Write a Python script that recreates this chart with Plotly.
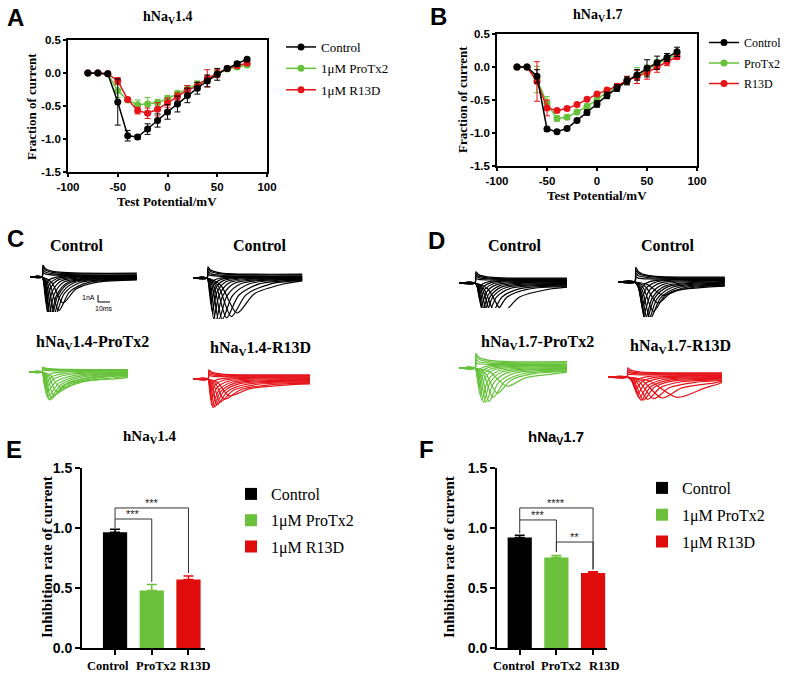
import plotly.graph_objects as go

W, H = 786, 673
def fx(p): return p / W
def fy(p): return 1 - p / H

SERIF = "Liberation Serif"
SANS = "Liberation Sans"
BLACK = "#000000"
GREEN = "#66c23a"
RED = "#e5141b"
BGREEN = "#6cc13c"
BRED = "#e00b0b"

# ---------------- I-V data (panels A, B) ----------------
volt = [-80, -70, -60, -50, -40, -30, -20, -10, 0, 10, 20, 30, 40, 50, 60, 70, 80]

A_ctrl = [0, 0, -0.01, -0.44, -0.95, -0.97, -0.85, -0.72, -0.59, -0.47, -0.34, -0.23, -0.12, -0.02, 0.07, 0.14, 0.21]
A_ctrl_err = [0.01, 0.01, 0.01, 0.35, 0.08, 0.03, 0.08, 0.10, 0.11, 0.12, 0.11, 0.09, 0.09, 0.09, 0.03, 0.03, 0.02]
A_pro = [0, 0, -0.01, -0.27, -0.41, -0.48, -0.47, -0.45, -0.39, -0.31, -0.24, -0.17, -0.10, 0.0, 0.06, 0.09, 0.12]
A_pro_err = [0.01, 0.01, 0.01, 0.10, 0.03, 0.07, 0.10, 0.05, 0.05, 0.04, 0.05, 0.05, 0.05, 0.04, 0.03, 0.03, 0.02]
A_r13 = [0, 0, -0.01, -0.12, -0.40, -0.57, -0.61, -0.55, -0.45, -0.36, -0.26, -0.20, -0.08, -0.01, 0.07, 0.11, 0.15]
A_r13_err = [0.01, 0.01, 0.01, 0.05, 0.02, 0.05, 0.08, 0.10, 0.07, 0.06, 0.07, 0.06, 0.13, 0.06, 0.03, 0.03, 0.03]

B_ctrl = [0, 0, -0.14, -0.94, -0.98, -0.93, -0.81, -0.69, -0.56, -0.43, -0.32, -0.21, -0.12, -0.02, 0.065, 0.145, 0.23]
B_ctrl_err = [0.01, 0.01, 0.10, 0.03, 0.02, 0.02, 0.03, 0.04, 0.05, 0.05, 0.05, 0.06, 0.08, 0.13, 0.10, 0.06, 0.07]
B_pro = [0, 0, -0.19, -0.55, -0.78, -0.76, -0.68, -0.60, -0.49, -0.38, -0.30, -0.21, -0.13, -0.05, 0.05, 0.12, 0.20]
B_pro_err = [0.01, 0.01, 0.20, 0.10, 0.04, 0.03, 0.03, 0.04, 0.04, 0.04, 0.05, 0.06, 0.12, 0.08, 0.06, 0.05, 0.05]
B_r13 = [0, 0, -0.22, -0.62, -0.66, -0.63, -0.57, -0.49, -0.41, -0.35, -0.29, -0.20, -0.15, -0.085, 0.0, 0.08, 0.155]
B_r13_err = [0.01, 0.01, 0.30, 0.12, 0.02, 0.02, 0.02, 0.02, 0.02, 0.03, 0.04, 0.06, 0.10, 0.10, 0.08, 0.06, 0.04]

iv_names = ["Control", "1μM ProTx2", "1μM R13D"]
iv_names_B = ["Control", "ProTx2", "R13D"]
iv_xticks = [-100, -50, 0, 50, 100]
iv_yticks = [-1.5, -1.0, -0.5, 0.0, 0.5]
iv_yticktext = ["-1.5", "-1.0", "-0.5", "0.0", "0.5"]
iv_xticktext = ["-100", "-50", "0", "50", "100"]
iv_xtitle = "Test Potential/mV"
iv_ytitle = "Fraction of current"

# ---------------- bar data (panels E, F) ----------------
bar_cats = ["Control", "ProTx2", "R13D"]
bar_names = ["Control", "1μM ProTx2", "1μM R13D"]
E_vals = [0.965, 0.48, 0.57]
E_err = [0.025, 0.05, 0.03]
F_vals = [0.92, 0.755, 0.625]
F_err = [0.02, 0.015, 0.01]
bar_yticks = [0.0, 0.5, 1.0, 1.5]
bar_yticktext = ["0.0", "0.5", "1.0", "1.5"]
bar_ytitle = "Inhibition rate of current"

# significance brackets: (left idx, right idx, left end, top, right end, label)
E_sig = [(0, 1, 1.0, 1.075, 0.55, "***"), (0, 2, 1.075, 1.167, 0.625, "***")]
F_sig = [(0, 1, 0.955, 1.067, 0.80, "***"), (0, 2, 1.067, 1.167, 0.655, "****"), (1, 2, 0.80, 0.883, 0.655, "**")]

# ---------------- current-trace families (panels C, D), ms / nA ----------------
fam_C1 = dict(t_on=10, t_end=89, k=1.0,
              peak_t=[27.5, 24, 21, 19, 17.5, 16.7, 15.5, 14.5, 13.5, 12.8, 12.2],
              peak_a=[-3.7, -4.8, -5.5, -6.0, -6.3, -6.4, -5.9, -4.9, -3.8, -2.6, -1.4],
              neg_tail=[-0.4, -0.35, -0.3, -0.25, -0.2, -0.15, -0.1, -0.05, 0.0, 0.05, 0.1],
              out_a=[0.6, 1.0, 1.4, 1.7], out_tail=[0.2, 0.3, 0.45, 0.55])
fam_C2 = dict(t_on=11.7, t_end=91, k=1.0,
              peak_t=[36.7, 32, 28, 24.5, 21.5, 19, 17.2, 16, 15, 14.2, 13.5],
              peak_a=[-5.0, -5.5, -5.7, -5.9, -6.0, -6.2, -5.8, -4.8, -3.7, -2.5, -1.3],
              neg_tail=[-0.4, -0.35, -0.3, -0.25, -0.2, -0.15, -0.1, -0.05, 0.0, 0.05, 0.1],
              out_a=[0.5, 0.9, 1.3, 1.6], out_tail=[0.2, 0.3, 0.45, 0.55])
fam_C3 = dict(t_on=10.8, t_end=82.5, k=2.2,
              peak_t=[26, 23, 20.5, 18.5, 17.5, 16.5, 15.5, 14.5, 13.5, 12.8, 12.2],
              peak_a=[-2.2, -2.8, -3.3, -3.7, -4.0, -3.9, -3.6, -3.0, -2.3, -1.6, -0.8],
              neg_tail=[-0.7, -0.6, -0.5, -0.45, -0.4, -0.3, -0.25, -0.2, -0.1, 0.0, 0.1],
              out_a=[0.3, 0.5, 0.6, 0.7], out_tail=[0.15, 0.25, 0.3, 0.35])
fam_C4 = dict(t_on=12.5, t_end=97.5, k=1.6,
              peak_t=[30, 26, 22.5, 20, 18, 16.7, 15.8, 15, 14.3, 13.7],
              peak_a=[-2.4, -2.9, -3.3, -3.7, -4.0, -4.1, -3.8, -3.0, -2.0, -1.0],
              neg_tail=[-0.7, -0.6, -0.5, -0.4, -0.3, -0.2, -0.1, 0.0, 0.1, 0.2],
              out_a=[0.5, 0.8, 1.1, 1.3], out_tail=[0.3, 0.4, 0.5, 0.6])
fam_D1 = dict(t_on=13.3, t_end=90, k=1.0,
              peak_t=[36.7, 30, 27, 24, 22, 20.5, 19.5, 18.5, 17.5, 16.8, 16.2],
              peak_a=[-4.1, -4.2, -4.4, -4.5, -4.6, -4.6, -4.1, -3.3, -2.5, -1.7, -0.9],
              neg_tail=[-0.6, -0.5, -0.4, -0.3, -0.2, -0.1, 0.0, 0.1, 0.2, 0.3, 0.35],
              out_a=[0.6, 1.0, 1.3, 1.6], out_tail=[0.4, 0.5, 0.6, 0.7])
fam_D2 = dict(t_on=14, t_end=89, k=1.0,
              peak_t=[37.5, 33, 29.5, 27, 25, 23.5, 22.5, 21.5, 20.5, 19.5, 18.5],
              peak_a=[-1.9, -3.0, -4.2, -5.2, -5.7, -5.7, -5.5, -4.6, -3.5, -2.3, -1.1],
              neg_tail=[-0.6, -0.5, -0.4, -0.3, -0.2, -0.1, 0.0, 0.1, 0.2, 0.3, 0.35],
              out_a=[0.7, 1.2, 1.7, 2.1], out_tail=[0.4, 0.5, 0.6, 0.7])
fam_D3 = dict(t_on=13.3, t_end=90, k=1.0,
              peak_t=[40, 32, 28.5, 25, 22.5, 20.5, 19, 17.5, 16.5, 15.7, 15],
              peak_a=[-2.6, -3.6, -4.2, -4.8, -4.9, -4.9, -4.6, -3.8, -2.8, -1.8, -0.9],
              neg_tail=[-0.6, -0.5, -0.4, -0.3, -0.2, -0.1, 0.0, 0.1, 0.2, 0.3, 0.4],
              out_a=[0.7, 1.2, 1.7, 2.1], out_tail=[0.5, 0.6, 0.75, 0.9])
fam_D4 = dict(t_on=15.8, t_end=95, k=1.0,
              peak_t=[57.5, 45, 38, 33, 29.5, 27.5, 26, 24.5, 23, 21.5],
              peak_a=[-2.9, -3.0, -3.1, -3.2, -3.3, -3.3, -3.0, -2.4, -1.7, -0.9],
              neg_tail=[-0.7, -0.6, -0.5, -0.4, -0.3, -0.2, -0.1, 0.0, 0.1, 0.2],
              out_a=[0.4, 0.7, 1.0, 1.3], out_tail=[0.3, 0.4, 0.5, 0.6])

# placement of each family: (left px, baseline px, colour)
fam_place = [
    (fam_C1, 30, 277, BLACK), (fam_C2, 193, 278, BLACK),
    (fam_C3, 29, 372, GREEN), (fam_C4, 193, 379, RED),
    (fam_D1, 459, 283, BLACK), (fam_D2, 618, 282, BLACK),
    (fam_D3, 459, 368, GREEN), (fam_D4, 608, 377, RED),
]
PX_PER_MS = 1.2
PX_PER_NA = 7.0
SCALE_MS = 10
SCALE_NA = 1

fig = go.Figure()

# ---------- panels A / B ----------
def add_iv(xa, ya, y, err, color, name, legend, rank):
    fig.add_trace(go.Scatter(
        x=volt, y=y, mode="lines+markers", name=name, legend=legend, legendrank=rank,
        legendgroup=f"{legend}-{rank}", xaxis=xa, yaxis=ya,
        line=dict(color=color, width=1.5),
        marker=dict(color=color, size=7),
        error_y=dict(type="data", array=err, color=color, thickness=1, width=3)))

add_iv("x", "y", A_pro, A_pro_err, GREEN, iv_names[1], "legend", 2)
add_iv("x", "y", A_r13, A_r13_err, RED, iv_names[2], "legend", 3)
add_iv("x", "y", A_ctrl, A_ctrl_err, BLACK, iv_names[0], "legend", 1)
add_iv("x2", "y2", B_pro, B_pro_err, GREEN, iv_names_B[1], "legend2", 2)
add_iv("x2", "y2", B_r13, B_r13_err, RED, iv_names_B[2], "legend2", 3)
add_iv("x2", "y2", B_ctrl, B_ctrl_err, BLACK, iv_names_B[0], "legend2", 1)

# ---------- panels E / F ----------
bar_colors = [BLACK, BGREEN, BRED]
bar_pos = list(range(len(bar_cats)))
for (xa, ya, vals, errs, leg) in [("x3", "y3", E_vals, E_err, "legend3"), ("x4", "y4", F_vals, F_err, "legend4")]:
    for i in bar_pos:
        fig.add_trace(go.Bar(
            x=[bar_pos[i]], y=[vals[i]], width=0.66, name=bar_names[i], legend=leg,
            legendgroup=f"{leg}-{i}",
            xaxis=xa, yaxis=ya, marker=dict(color=bar_colors[i], line=dict(width=0)),
            error_y=dict(type="data", symmetric=False, array=[errs[i]], arrayminus=[0],
                         color=bar_colors[i], thickness=1.5, width=5)))

shapes = []
annotations = []
for (xa, ya, sigs) in [("x3", "y3", E_sig), ("x4", "y4", F_sig)]:
    for (l, r, yl, yt, yr, lab) in sigs:
        xl, xr = bar_pos[l], bar_pos[r]
        shapes.append(dict(type="path", xref=xa, yref=ya,
                           path=f"M{xl},{yl} L{xl},{yt} L{xr},{yt} L{xr},{yr}",
                           line=dict(color="#333333", width=1)))
        annotations.append(dict(x=(xl + xr) / 2, y=yt, xref=xa, yref=ya, text=lab, showarrow=False,
                                yanchor="bottom", yshift=-3, font=dict(family=SANS, size=11, color="#222222")))

# category labels under the bars (slightly spread as in the original)
cat_shift_E = [-7, 4, 7]
cat_shift_F = [-6, 5, 11]
for (xa, ya, shifts) in [("x3", "y3", cat_shift_E), ("x4", "y4", cat_shift_F)]:
    for i, c in enumerate(bar_cats):
        annotations.append(dict(x=bar_pos[i], y=0, xref=xa, yref=ya, text=c, showarrow=False,
                                xanchor="center", yanchor="top", xshift=shifts[i], yshift=-9,
                                font=dict(family=SERIF, size=12.5, color=BLACK, weight="bold")))

# ---------- panels C / D current traces ----------
def family_xy(fam):
    xs, ys = [], []
    t_on, t_end, k = fam["t_on"], fam["t_end"], fam["k"]
    for tp, a, tail in zip(fam["peak_t"], fam["peak_a"], fam["neg_tail"]):
        trel = tp - t_on
        t4 = min(tp + k * (0.5 * trel + 2), t_end - 6)
        t5 = min(tp + k * (1.3 * trel + 6), t_end - 2)
        if t5 <= t4 + 1:
            t5 = t4 + 1
        pts = [(0, 0), (t_on, 0), (t_on + 0.45 * trel, 0.2 * a), (tp, a),
               (t4, 0.4 * a + 0.6 * tail), (t5, 0.1 * a + 0.9 * tail), (t_end, tail)]
        xs += [p[0] for p in pts] + [None]
        ys += [p[1] for p in pts] + [None]
    for s, tail in zip(fam["out_a"], fam["out_tail"]):
        pts = [(0, 0), (t_on, 0), (t_on + 0.8, s), (t_on + 3, 0.55 * s + 0.45 * tail),
               (t_on + 12, 0.15 * s + 0.85 * tail), (t_end, tail)]
        xs += [p[0] for p in pts] + [None]
        ys += [p[1] for p in pts] + [None]
    return xs, ys

layout_axes = {}
for n, (fam, x0, base, color) in enumerate(fam_place):
    idx = n + 5
    xs, ys = family_xy(fam)
    fig.add_trace(go.Scatter(x=xs, y=ys, mode="lines", showlegend=False, hoverinfo="skip",
                             line=dict(color=color, width=1.2, shape="spline", smoothing=0.8),
                             xaxis=f"x{idx}", yaxis=f"y{idx}"))
    half = 60
    layout_axes[f"xaxis{idx}"] = dict(domain=[fx(x0), fx(x0 + 120)], range=[0, 120 / PX_PER_MS],
                                      visible=False, showticklabels=False, ticks="", showgrid=False,
                                      zeroline=False, anchor=f"y{idx}", fixedrange=True)
    layout_axes[f"yaxis{idx}"] = dict(domain=[fy(base + half), fy(base - half)],
                                      range=[-half / PX_PER_NA, half / PX_PER_NA],
                                      visible=False, showticklabels=False, ticks="", showgrid=False,
                                      zeroline=False, anchor=f"x{idx}", fixedrange=True)

# scale bar in first control family
sb_t0, sb_i0 = 56.7, -3.57
fig.add_trace(go.Scatter(x=[sb_t0, sb_t0, sb_t0 + SCALE_MS], y=[sb_i0 + SCALE_NA, sb_i0, sb_i0],
                         mode="lines", showlegend=False, hoverinfo="skip",
                         line=dict(color=BLACK, width=1), xaxis="x5", yaxis="y5"))
annotations.append(dict(x=sb_t0, y=sb_i0 + SCALE_NA * 0.6, xref="x5", yref="y5", text="1nA", showarrow=False,
                        xanchor="right", xshift=-1, font=dict(family=SANS, size=7, color=BLACK)))
annotations.append(dict(x=sb_t0 + SCALE_MS / 2, y=sb_i0, xref="x5", yref="y5", text="10ms", showarrow=False,
                        yanchor="top", yshift=-1, font=dict(family=SANS, size=7, color=BLACK)))

# ---------- text annotations ----------
def label(x, y, text, family, size, bold=True, angle=0):
    annotations.append(dict(x=fx(x), y=fy(y), xref="paper", yref="paper", text=text, showarrow=False,
                            xanchor="center", yanchor="middle", textangle=angle,
                            font=dict(family=family, size=size, color=BLACK, weight="bold" if bold else "normal")))

for (lx, ly, t) in [(15, 17, "A"), (438, 16, "B"), (15, 238, "C"), (437, 240, "D"), (14, 450, "E"), (426, 450, "F")]:
    label(lx, ly, t, SANS, 24)
label(167, 17, "hNa<sub>V</sub>1.4", SERIF, 14)
label(597, 15, "hNa<sub>V</sub>1.7", SERIF, 14)
for (cx, cy) in [(77, 245), (260, 245), (515, 245), (668, 245)]:
    label(cx, cy, "Control", SERIF, 16)
label(92, 342, "hNa<sub>V</sub>1.4-ProTx2", SERIF, 16)
label(260, 348, "hNa<sub>V</sub>1.4-R13D", SERIF, 16)
label(537, 342, "hNa<sub>V</sub>1.7-ProTx2", SERIF, 16)
label(680, 347, "hNa<sub>V</sub>1.7-R13D", SERIF, 16)
label(150, 437, "hNa<sub>V</sub>1.4", SERIF, 15)
label(556, 437, "hNa<sub>V</sub>1.7", SANS, 15)
# axis titles
label(167, 201, iv_xtitle, SERIF, 13)
label(597, 195, iv_xtitle, SERIF, 13)
label(31, 107, iv_ytitle, SERIF, 13, angle=-90)
label(462, 100, iv_ytitle, SERIF, 13, angle=-90)
label(47, 557, bar_ytitle, SERIF, 15, angle=-90)
label(449, 557, bar_ytitle, SERIF, 15, angle=-90)

# ---------- axes ----------
def iv_axes(xdom, ydom, anchx, anchy):
    xa = dict(domain=xdom, range=[-100, 100], anchor=anchy, tickvals=iv_xticks, ticktext=iv_xticktext,
              showline=True, mirror=True, linecolor=BLACK, linewidth=1.5, ticks="outside", ticklen=3,
              tickwidth=1.5, tickcolor=BLACK, showgrid=False, zeroline=False, tickangle=0,
              automargin=False,
              tickfont=dict(family=SANS, size=11.5, color=BLACK, weight="bold"))
    ya = dict(domain=ydom, range=[-1.5, 0.5], anchor=anchx, tickvals=iv_yticks, ticktext=iv_yticktext,
              showline=True, mirror=True, linecolor=BLACK, linewidth=1.5, ticks="outside", ticklen=3,
              tickwidth=1.5, tickcolor=BLACK, showgrid=False, zeroline=False, automargin=False,
              tickfont=dict(family=SANS, size=11.5, color=BLACK, weight="bold"))
    return xa, ya

def bar_axes(xdom, xrng, anchx, anchy):
    xa = dict(domain=xdom, range=xrng, anchor=anchy, tickvals=bar_pos, showticklabels=False,
              showline=True, linecolor=BLACK, linewidth=2, ticks="outside", ticklen=5, tickwidth=2,
              tickcolor=BLACK, showgrid=False, zeroline=False, automargin=False)
    ya = dict(domain=[fy(648), fy(468)], range=[0, 1.5], anchor=anchx, tickvals=bar_yticks,
              ticktext=bar_yticktext, showline=True, linecolor=BLACK, linewidth=2, ticks="outside",
              ticklen=5, tickwidth=2, tickcolor=BLACK, showgrid=False, zeroline=False, automargin=False,
              tickfont=dict(family=SANS, size=14, color=BLACK, weight="bold"))
    return xa, ya

xa1, ya1 = iv_axes([fx(68), fx(267)], [fy(172), fy(40)], "x", "y")
xa2, ya2 = iv_axes([fx(497), fx(697)], [fy(166), fy(34)], "x2", "y2")
xa3, ya3 = bar_axes([fx(82), fx(205)], [-0.9, 2.45], "x3", "y3")
xa4, ya4 = bar_axes([fx(497), fx(607)], [-0.62, 2.38], "x4", "y4")

def leg(x, y, size, gap):
    return dict(x=fx(x), y=fy(y), xanchor="left", yanchor="top", bgcolor="rgba(0,0,0,0)",
                font=dict(family=SERIF, size=size, color=BLACK), borderwidth=0, itemclick=False,
                tracegroupgap=gap)

fig.update_layout(
    width=W, height=H, margin=dict(l=0, r=0, t=0, b=0, autoexpand=False),
    paper_bgcolor="white", plot_bgcolor="white", barmode="overlay",
    xaxis=xa1, yaxis=ya1, xaxis2=xa2, yaxis2=ya2, xaxis3=xa3, yaxis3=ya3, xaxis4=xa4, yaxis4=ya4,
    legend=leg(281, 32, 13, 1.5), legend2=leg(704, 28, 12, 1.5),
    legend3=leg(231, 477, 16, 2.5), legend4=leg(642, 471, 16, 3),
    shapes=shapes, annotations=annotations, showlegend=True,
)
fig.update_layout(**layout_axes)

fig.write_html("out.html")
